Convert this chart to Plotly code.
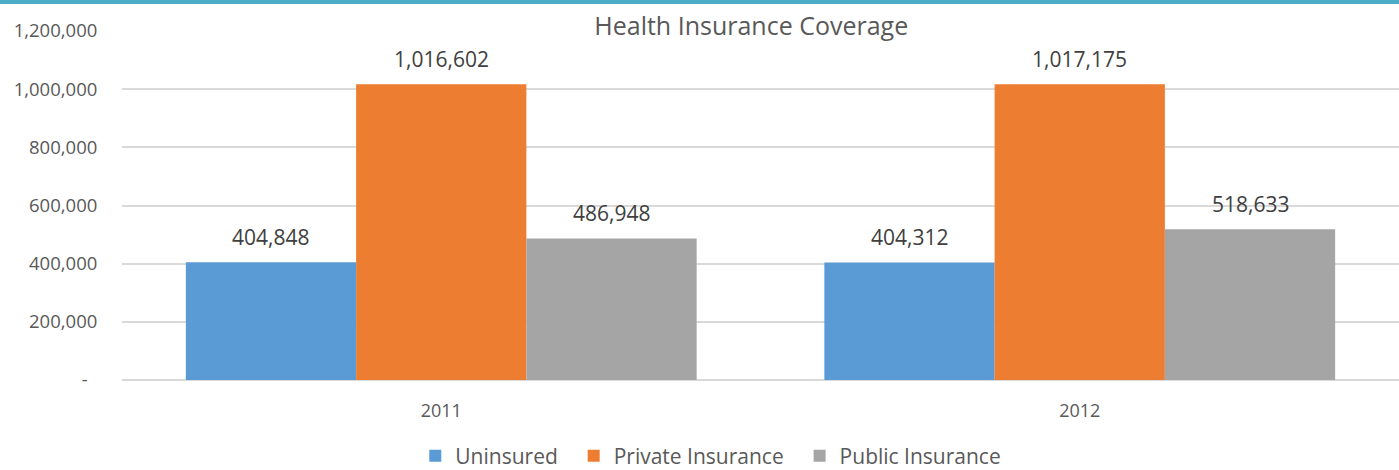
import plotly.graph_objects as go

years = ["2011", "2012"]
series_names = ["Uninsured", "Private Insurance", "Public Insurance"]
uninsured = [404848, 404312]
private = [1016602, 1017175]
public = [486948, 518633]
colors = ["#5B9BD5", "#ED7D31", "#A5A5A5"]
y_tickvals = [0, 200000, 400000, 600000, 800000, 1000000, 1200000]
y_ticktext = ["-\u00a0\u00a0", "200,000", "400,000", "600,000", "800,000", "1,000,000", "1,200,000"]

FONT = "Open Sans"
TXT = "#595959"

fig = go.Figure()
all_series = [uninsured, private, public]
for name, vals, col in zip(series_names, all_series, colors):
    fig.add_trace(go.Bar(x=years, y=vals, name=name + "\u00a0\u00a0",
                         marker=dict(color=col, line=dict(width=0))))

# data labels
plot_w = 1399 - 122
cat_w = plot_w / len(years)
bar_w = cat_w * 0.8 / len(all_series)
annotations = []
for i, vals in enumerate(all_series):
    for j, v in enumerate(vals):
        annotations.append(dict(
            x=j, y=v, xref="x", yref="y", text=f"{v:,}", showarrow=False,
            xshift=(i - 1) * bar_w, yshift=9, yanchor="bottom",
            font=dict(family=FONT, size=21, color="#404040")))

fig.update_layout(
    width=1399, height=470,
    margin=dict(l=122, r=0, t=31, b=90, autoexpand=False),
    paper_bgcolor="white", plot_bgcolor="white",
    barmode="group", bargap=0.2, bargroupgap=0,
    font=dict(family=FONT, color=TXT),
    title=dict(text="Health Insurance Coverage", x=0.537, xref="container", xanchor="center",
               y=1 - 26 / 470, yref="container", yanchor="middle",
               font=dict(family=FONT, size=25, color=TXT)),
    annotations=annotations,
    showlegend=True,
    legend=dict(orientation="h", x=0.512, xref="container", xanchor="center",
                y=1 - 456 / 470, yref="container", yanchor="middle",
                font=dict(family=FONT, size=21, color=TXT),
                itemwidth=30, tracegroupgap=0),
    shapes=[dict(type="rect", xref="paper", yref="paper",
                 xsizemode="pixel", ysizemode="pixel", xanchor=0, yanchor=1,
                 x0=-130, x1=1300, y0=27, y1=32,
                 fillcolor="#4BACC6", line=dict(width=0), layer="above")],
)
fig.update_yaxes(range=[0, 1200000], tickvals=y_tickvals, ticktext=y_ticktext,
                 showgrid=True, gridcolor="#D9D9D9", gridwidth=2,
                 zeroline=True, zerolinecolor="#D9D9D9", zerolinewidth=2,
                 ticks="outside", ticklen=20, tickcolor="rgba(0,0,0,0)",
                 automargin=False,
                 tickfont=dict(family=FONT, size=18.5, color=TXT))
fig.update_xaxes(type="category", range=[-0.5, len(years) - 0.5],
                 showgrid=False, showline=False, ticks="outside", ticklen=14,
                 tickcolor="rgba(0,0,0,0)", automargin=False,
                 tickfont=dict(family=FONT, size=18, color=TXT))

fig.write_html("out.html", config={"displayModeBar": False},
               post_script="document.body.style.margin='0';")
